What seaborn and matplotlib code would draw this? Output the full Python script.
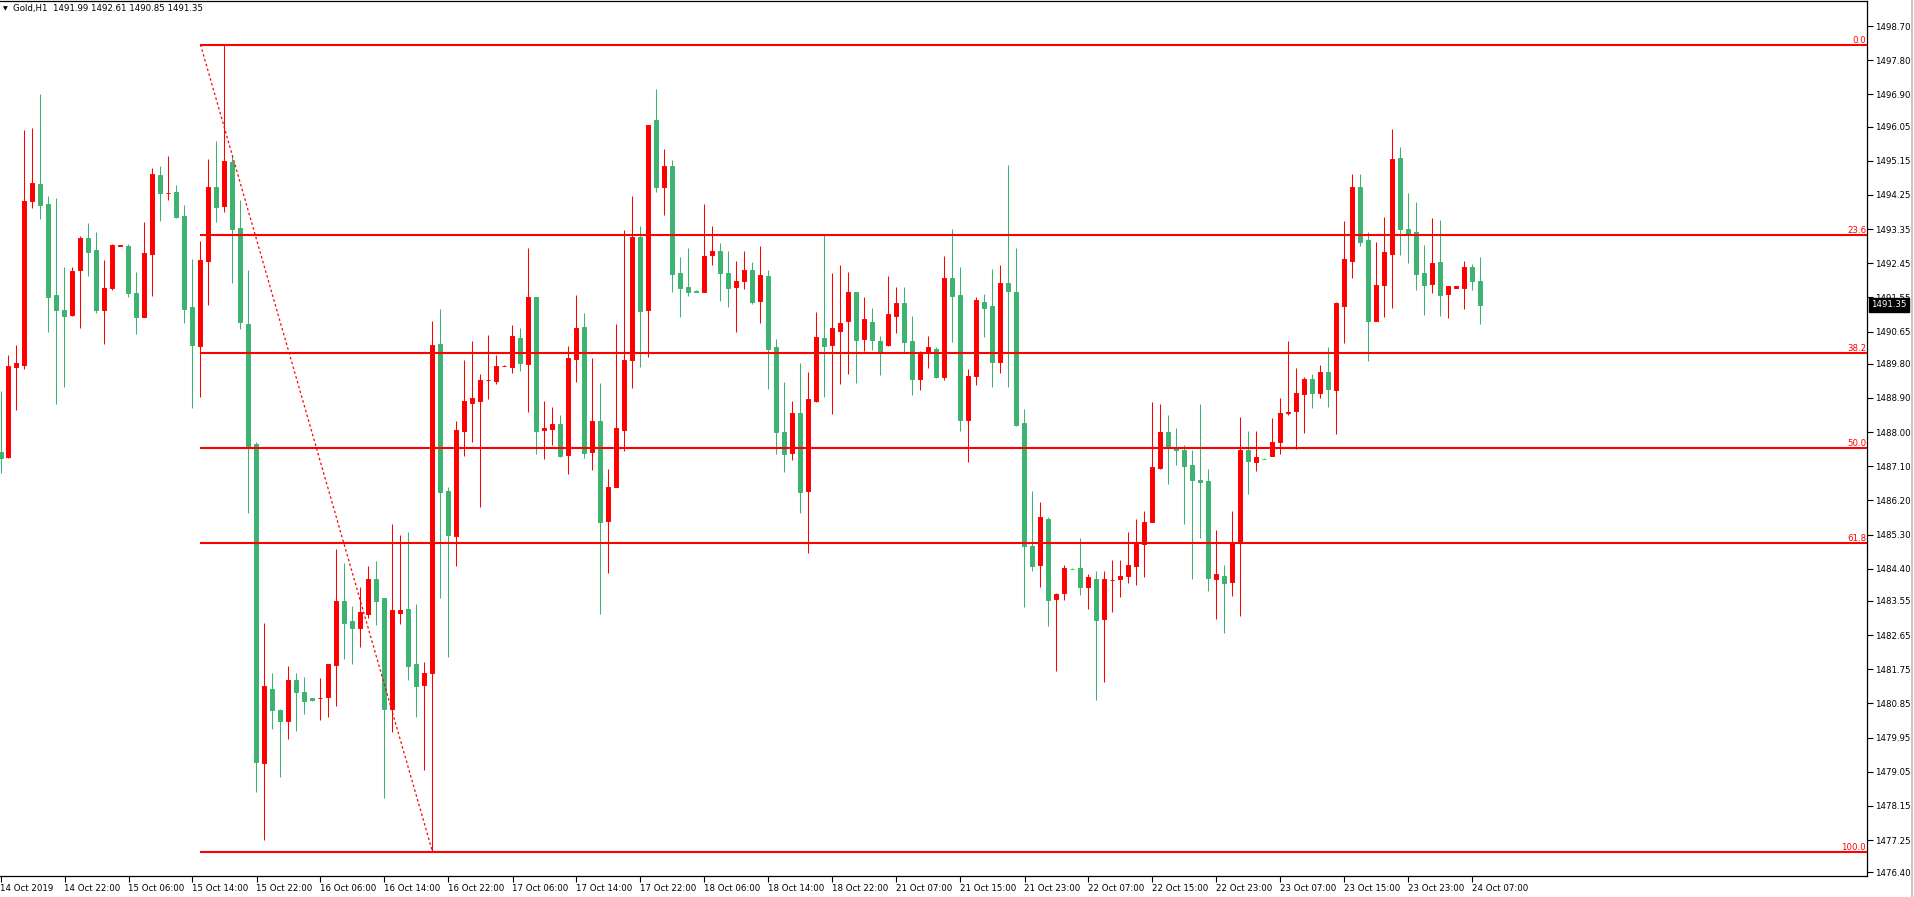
import numpy as np
import pandas as pd
import matplotlib
matplotlib.use("Agg")
import matplotlib.pyplot as plt
from matplotlib.lines import Line2D
import seaborn as sns

# ---------------- data (Gold, H1) ----------------
opens = [1487.47, 1487.34, 1489.72, 1489.77, 1494.09, 1494.53, 1494.00, 1491.60, 1491.21, 1491.09,
         1492.27, 1493.11, 1492.79, 1491.22, 1491.79, 1492.90, 1492.89, 1491.66, 1491.03, 1492.69,
         1494.77, 1494.29, 1494.32, 1493.69, 1491.29, 1490.27, 1492.51, 1494.45, 1493.96, 1495.11,
         1493.37, 1490.84, 1487.68, 1479.28, 1481.24, 1480.68, 1480.38, 1481.48, 1481.14, 1480.98,
         1480.99, 1481.01, 1481.85, 1483.56, 1483.01, 1482.83, 1483.20, 1484.14, 1483.62, 1480.70,
         1483.23, 1483.33, 1481.88, 1481.33, 1481.65, 1490.31, 1486.46, 1485.26, 1488.03, 1488.77,
         1488.82, 1489.36, 1489.34, 1489.74, 1489.71, 1490.49, 1489.79, 1491.55, 1488.05, 1488.09,
         1488.20, 1487.39, 1489.92, 1490.78, 1487.47, 1488.28, 1485.65, 1486.56, 1488.05, 1489.91,
         1493.15, 1491.21, 1496.21, 1494.45, 1495.02, 1492.18, 1491.81, 1491.73, 1491.69, 1492.66,
         1492.76, 1492.20, 1491.82, 1491.98, 1492.26, 1491.45, 1492.12, 1490.23, 1488.00, 1487.44,
         1488.49, 1486.44, 1488.81, 1490.47, 1490.29, 1490.66, 1490.92, 1491.68, 1490.45, 1490.91,
         1490.39, 1490.29, 1491.05, 1491.39, 1490.41, 1489.39, 1490.08, 1490.20, 1489.45, 1492.05,
         1491.62, 1488.31, 1489.47, 1491.44, 1491.31, 1489.84, 1491.92, 1491.70, 1488.25, 1484.99,
         1484.49, 1485.72, 1483.60, 1483.76, 1484.40, 1484.43, 1483.91, 1484.14, 1483.07, 1484.10,
         1484.12, 1484.20, 1484.47, 1485.05, 1485.63, 1487.05, 1487.99, 1487.59, 1487.54, 1487.12,
         1486.73, 1486.70, 1484.12, 1484.20, 1484.05, 1485.10, 1487.54, 1487.21, 1487.30, 1487.37,
         1487.74, 1488.50, 1488.55, 1489.00, 1489.39, 1489.02, 1489.57, 1489.10, 1491.32, 1492.51,
         1494.45, 1493.05, 1490.93, 1491.87, 1492.69, 1495.21, 1493.34, 1493.26, 1492.18, 1491.90,
         1492.47, 1491.64, 1491.80, 1491.80, 1492.34, 1491.99]
highs = [1489.08, 1490.02, 1490.29, 1495.95, 1496.00, 1496.90, 1494.21, 1494.18, 1492.34, 1492.34,
         1493.16, 1493.50, 1493.26, 1492.53, 1492.95, 1492.93, 1492.95, 1492.21, 1493.53, 1494.95,
         1495.00, 1495.27, 1494.50, 1493.98, 1492.55, 1493.03, 1495.19, 1495.66, 1498.19, 1495.29,
         1494.11, 1492.26, 1487.73, 1482.98, 1481.64, 1480.70, 1481.84, 1481.66, 1481.55, 1480.99,
         1481.52, 1481.90, 1484.93, 1484.54, 1483.41, 1483.92, 1484.46, 1484.59, 1483.64, 1485.59,
         1485.30, 1485.36, 1483.46, 1481.93, 1490.92, 1491.24, 1486.54, 1488.28, 1489.89, 1490.39,
         1489.52, 1490.57, 1490.02, 1489.77, 1490.81, 1490.75, 1492.84, 1491.56, 1488.83, 1488.67,
         1488.46, 1490.28, 1491.60, 1491.15, 1489.96, 1489.28, 1487.04, 1490.86, 1493.33, 1494.21,
         1493.44, 1496.10, 1497.05, 1495.45, 1495.18, 1492.60, 1492.84, 1491.74, 1494.02, 1493.44,
         1492.99, 1492.78, 1492.52, 1492.76, 1492.47, 1492.89, 1492.26, 1490.44, 1489.33, 1488.83,
         1489.83, 1489.57, 1491.16, 1493.23, 1492.18, 1492.41, 1492.23, 1491.70, 1491.55, 1491.26,
         1490.54, 1492.10, 1491.81, 1491.83, 1491.07, 1490.13, 1490.54, 1490.25, 1492.63, 1493.34,
         1492.36, 1489.65, 1491.57, 1491.65, 1492.31, 1492.41, 1495.03, 1492.86, 1488.62, 1486.46,
         1486.15, 1485.75, 1483.77, 1484.49, 1484.42, 1485.20, 1484.25, 1484.33, 1484.35, 1484.64,
         1484.62, 1485.36, 1485.72, 1485.91, 1488.78, 1488.75, 1488.46, 1488.12, 1487.67, 1487.52,
         1488.73, 1487.02, 1485.41, 1484.49, 1485.93, 1488.39, 1488.04, 1488.04, 1487.32, 1488.36,
         1488.91, 1490.39, 1489.69, 1489.45, 1489.52, 1489.76, 1490.23, 1491.44, 1493.55, 1494.79,
         1494.79, 1493.26, 1493.00, 1493.66, 1495.98, 1495.50, 1494.29, 1494.05, 1492.92, 1493.63,
         1493.60, 1491.85, 1491.85, 1492.50, 1492.42, 1492.61]
lows = [1486.92, 1487.31, 1488.59, 1489.67, 1493.90, 1493.61, 1490.64, 1488.74, 1489.19, 1491.05,
        1490.74, 1492.11, 1491.14, 1490.32, 1491.74, 1492.89, 1491.56, 1490.58, 1491.03, 1491.58,
        1493.56, 1494.12, 1493.63, 1490.88, 1488.64, 1488.93, 1491.34, 1493.54, 1493.80, 1491.93,
        1490.72, 1485.87, 1478.51, 1477.25, 1480.17, 1478.91, 1479.91, 1480.12, 1480.57, 1480.91,
        1480.41, 1480.49, 1480.78, 1482.01, 1481.90, 1482.33, 1483.10, 1482.91, 1478.35, 1480.09,
        1482.93, 1481.48, 1480.49, 1479.09, 1476.94, 1483.63, 1482.07, 1484.46, 1487.37, 1487.74,
        1486.02, 1488.86, 1489.27, 1489.73, 1489.55, 1489.62, 1488.52, 1487.42, 1487.29, 1487.65,
        1487.34, 1486.89, 1489.31, 1487.31, 1487.00, 1483.20, 1484.28, 1486.55, 1487.50, 1489.16,
        1489.71, 1489.97, 1494.32, 1493.71, 1491.69, 1491.03, 1491.58, 1491.68, 1491.68, 1492.40,
        1491.45, 1491.29, 1490.63, 1491.76, 1491.37, 1490.87, 1489.13, 1487.42, 1486.94, 1487.26,
        1485.86, 1484.81, 1488.78, 1488.92, 1488.47, 1489.26, 1489.53, 1489.29, 1490.13, 1490.16,
        1489.50, 1490.28, 1490.61, 1490.08, 1488.97, 1489.10, 1489.68, 1489.42, 1489.37, 1490.37,
        1488.02, 1487.21, 1489.24, 1490.50, 1489.18, 1489.55, 1489.19, 1488.15, 1483.38, 1484.34,
        1483.91, 1482.89, 1481.70, 1483.57, 1484.38, 1483.70, 1483.33, 1480.94, 1481.41, 1483.26,
        1483.65, 1484.02, 1483.97, 1484.18, 1485.62, 1487.04, 1486.63, 1487.13, 1485.57, 1484.13,
        1485.21, 1483.81, 1483.07, 1482.70, 1483.68, 1483.15, 1486.37, 1486.97, 1487.28, 1487.36,
        1487.42, 1488.46, 1487.56, 1487.97, 1488.63, 1488.89, 1488.67, 1487.95, 1490.36, 1492.06,
        1492.90, 1489.87, 1490.92, 1491.03, 1491.27, 1492.66, 1492.45, 1491.74, 1491.08, 1491.66,
        1491.06, 1491.00, 1491.79, 1491.24, 1491.74, 1490.85]
closes = [1487.32, 1489.73, 1489.82, 1494.08, 1494.55, 1493.98, 1491.56, 1491.22, 1491.06, 1492.24,
          1493.11, 1492.75, 1491.22, 1491.79, 1492.92, 1492.92, 1491.66, 1491.03, 1492.71, 1494.79,
          1494.30, 1494.31, 1493.67, 1491.24, 1490.30, 1492.53, 1494.45, 1493.93, 1495.13, 1493.35,
          1490.90, 1487.63, 1479.30, 1481.32, 1480.67, 1480.38, 1481.48, 1481.14, 1480.91, 1480.94,
          1481.00, 1481.88, 1483.56, 1482.96, 1482.85, 1483.25, 1484.12, 1483.56, 1480.70, 1483.30,
          1483.30, 1481.83, 1481.31, 1481.64, 1490.29, 1486.42, 1485.28, 1488.05, 1488.81, 1488.89,
          1489.36, 1489.37, 1489.75, 1489.75, 1490.52, 1489.81, 1491.55, 1488.02, 1488.12, 1488.22,
          1487.36, 1489.94, 1490.75, 1487.44, 1488.28, 1485.63, 1486.56, 1488.12, 1489.91, 1493.15,
          1491.19, 1496.09, 1494.45, 1495.02, 1492.16, 1491.79, 1491.69, 1491.69, 1492.65, 1492.78,
          1492.19, 1491.79, 1491.99, 1492.28, 1491.42, 1492.15, 1490.18, 1488.00, 1487.42, 1488.49,
          1486.42, 1488.86, 1490.50, 1490.26, 1490.74, 1490.87, 1491.68, 1490.42, 1490.97, 1490.42,
          1490.10, 1491.10, 1491.41, 1490.37, 1489.39, 1490.10, 1490.23, 1489.45, 1492.07, 1491.58,
          1488.31, 1489.49, 1491.47, 1491.26, 1489.84, 1491.94, 1491.72, 1488.19, 1484.99, 1484.47,
          1485.75, 1483.57, 1483.74, 1484.43, 1484.40, 1483.91, 1484.17, 1483.04, 1484.12, 1484.11,
          1484.22, 1484.51, 1485.05, 1485.64, 1487.07, 1487.99, 1487.60, 1487.54, 1487.10, 1486.73,
          1486.69, 1484.15, 1484.25, 1484.02, 1485.09, 1487.54, 1487.23, 1487.33, 1487.30, 1487.73,
          1488.49, 1488.53, 1489.02, 1489.41, 1489.02, 1489.57, 1489.13, 1491.40, 1492.55, 1494.47,
          1493.01, 1490.93, 1491.87, 1492.74, 1495.19, 1493.35, 1493.18, 1492.16, 1491.87, 1492.45,
          1491.61, 1491.84, 1491.84, 1492.34, 1491.98, 1491.35]

time_labels = ["14 Oct 2019", "14 Oct 22:00", "15 Oct 06:00", "15 Oct 14:00", "15 Oct 22:00",
               "16 Oct 06:00", "16 Oct 14:00", "16 Oct 22:00", "17 Oct 06:00", "17 Oct 14:00",
               "17 Oct 22:00", "18 Oct 06:00", "18 Oct 14:00", "18 Oct 22:00", "21 Oct 07:00",
               "21 Oct 15:00", "21 Oct 23:00", "22 Oct 07:00", "22 Oct 15:00", "22 Oct 23:00",
               "23 Oct 07:00", "23 Oct 15:00", "23 Oct 23:00", "24 Oct 07:00"]
label_every = 8

price_ticks = [1498.70, 1497.80, 1496.90, 1496.05, 1495.15, 1494.25, 1493.35, 1492.45, 1491.55,
               1490.65, 1489.80, 1488.90, 1488.00, 1487.10, 1486.20, 1485.30, 1484.40, 1483.55,
               1482.65, 1481.75, 1480.85, 1479.95, 1479.05, 1478.15, 1477.25, 1476.40]

fib_high = 1498.21
fib_low = 1476.94
fib_start_bar = 25
fib_end_bar = 54
fib_levels = [0.0, 23.6, 38.2, 50.0, 61.8, 100.0]

symbol = "Gold,H1"

# ---------------- style ----------------
sns.set_theme(style="white")
plt.rcParams["font.family"] = ["DejaVu Sans"]
FS = 6.2
RED = "#FF0000"
GREEN = "#3CB371"
DOJI = "#00FF00"

W, H = 1915, 897
fig = plt.figure(figsize=(W / 100, H / 100), dpi=100)
ax_left, ax_right, ax_top, ax_bottom = 0, 1867, 1, 876
ax = fig.add_axes([ax_left / W, 1 - ax_bottom / H, (ax_right - ax_left) / W, (ax_bottom - ax_top) / H])

df = pd.DataFrame({"o": opens, "h": highs, "l": lows, "c": closes})
df["x"] = np.arange(len(df))
df["color"] = np.where(df.c > df.o, RED, np.where(df.c < df.o, GREEN, DOJI))

# wicks
ax.vlines(df.x, df.l, df.h, colors=df.color, linewidth=0.75, zorder=3)
# bodies
ax.bar(df.x, (df.c - df.o).abs(), bottom=np.minimum(df.o, df.c), width=0.5,
       color=df.color, edgecolor=df.color, linewidth=0.7, zorder=4)

# fibonacci
fib_df = pd.DataFrame({"x": [fib_start_bar, fib_end_bar], "y": [fib_high, fib_low]})
sns.lineplot(data=fib_df, x="x", y="y", ax=ax, color=RED, linestyle=(0, (2, 2)),
             linewidth=0.9, zorder=5)
x_right = (ax_right - 0.5) / 8
for lv in fib_levels:
    price = fib_high - (fib_high - fib_low) * lv / 100.0
    ax.hlines(price, fib_start_bar, x_right, color=RED, linewidth=1.5, zorder=5)
    ax.text(0.9995, price, f"{lv:.1f}", transform=ax.get_yaxis_transform(),
            ha="right", va="bottom", color=RED, fontsize=FS, zorder=6)

# axes limits
ax.set_xlim((0 - 0.5) / 8, x_right)
ax.set_ylim(1476.40 - 3.7 / 37.95, 1498.70 + 25 / 37.95)
ax.set_xlabel("")
ax.set_ylabel("")

# y axis on right
ax.yaxis.tick_right()
ax.set_yticks(price_ticks)
ax.set_yticklabels([f"{p:.2f}" for p in price_ticks])
ax.tick_params(axis="y", direction="out", length=4, width=0.8, color="black",
               labelsize=FS, labelcolor="black", pad=2, left=False, right=True)

# x axis
xt = np.arange(len(time_labels)) * label_every
ax.set_xticks(xt)
ax.set_xticklabels(time_labels)
ax.tick_params(axis="x", direction="out", length=4, width=0.8, color="black",
               labelsize=FS, labelcolor="black", pad=1.5, bottom=True)
for lab in ax.get_xticklabels():
    lab.set_horizontalalignment("left")

for s in ["top", "right", "bottom"]:
    ax.spines[s].set_visible(True)
    ax.spines[s].set_color("black")
    ax.spines[s].set_linewidth(0.9)
ax.spines["left"].set_visible(False)
ax.grid(False)
ax.set_facecolor("white")

# title
fig.text(3 / W, 1 - 9 / H, "\u25bc", fontsize=4.5, color="black", va="center", ha="left")
fig.text(13 / W, 1 - 9 / H,
         f"{symbol}  {opens[-1]:.2f} {highs[-1]:.2f} {lows[-1]:.2f} {closes[-1]:.2f}",
         fontsize=FS, color="black", va="center", ha="left")

# current price label
ax.text(1.0 + 4 / (ax_right - ax_left), closes[-1], f"{closes[-1]:.2f}",
        transform=ax.get_yaxis_transform(), ha="left", va="center", color="white",
        fontsize=FS, zorder=10, clip_on=False,
        bbox=dict(boxstyle="square,pad=0.25", facecolor="black", edgecolor="black"))

# window edge
fig.add_artist(Line2D([1912 / W, 1912 / W], [0, 1], color="#c8c8c8", linewidth=1.5))

fig.savefig("out.png", dpi=100, facecolor="white")
